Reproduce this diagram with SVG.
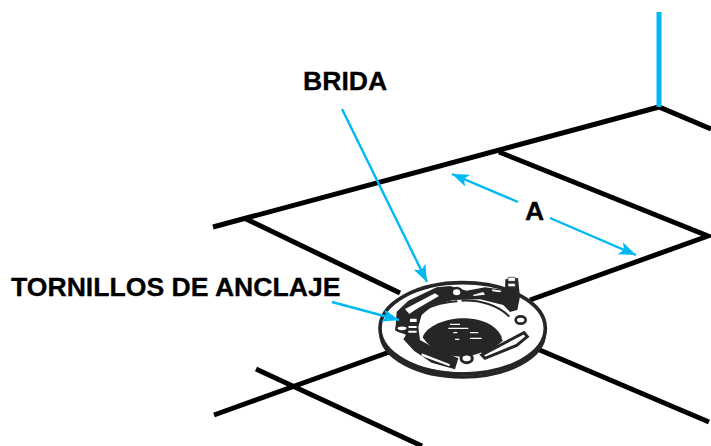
<svg xmlns="http://www.w3.org/2000/svg" width="711" height="446" viewBox="0 0 711 446">
<defs>
<marker id="ah" markerUnits="userSpaceOnUse" markerWidth="18" markerHeight="14" refX="17" refY="7" orient="auto"><path d="M0 0.500L17 7L0 13.500L4 7Z" fill="#00b9f2"/></marker>
</defs>
<style>
.floor{fill:none;stroke:#000;stroke-width:5}
.dim{fill:none;stroke:#00b9f2;stroke-width:2.4;marker-end:url(#ah)}
.lbl{font-family:"Liberation Sans",Arial,sans-serif;font-weight:700;font-size:26.6px;fill:#000;stroke:#000;stroke-width:.3}
.k{fill:#262626;stroke:none}
.o{fill:none;stroke:#262626}
.w{fill:#fff;stroke:#262626}
</style>
<g id="floor-lines" class="floor">
<path d="M213 227L659 107L711 129"/>
<path d="M246 219L400 293"/>
<path d="M499 152L708 236L530 300"/>
<path d="M214 415L395 350"/>
<path d="M256 369L422 446"/>
<path d="M535 348L709 422"/>
</g>
<path id="wall-line" d="M659 107V12" fill="none" stroke="#00b9f2" stroke-width="5"/>
<g id="flange" transform="translate(370 260) scale(.3333)">
<ellipse cx="278" cy="218" rx="246" ry="133" class="w" stroke-width="10"/>
<ellipse cx="278" cy="205" rx="248" ry="137" class="w" stroke-width="11"/>
<path class="o" stroke-width="5" d="M62 270C120 325 210 340 290 340"/>
<path class="k" d="M80 155L115 122L200 82L240 78L290 92L345 82L405 90L406 58L444 54L450 110L442 150L420 156L400 135L330 118L250 120L190 135L155 165L145 200L150 240L190 262L265 295L255 328L185 308L132 272L100 238L108 224L76 212Z"/>
<ellipse cx="285" cy="190" rx="135" ry="58" fill="#fff"/>
<path class="k" d="M158 232C170 197 230 175 280 175C340 175 385 200 396 235C360 270 320 290 275 290C225 290 180 267 158 232Z"/>
<path class="o" stroke-width="6" d="M150 162C175 138 215 127 262 124M275 122C330 120 385 135 418 170"/>
<path class="o" stroke-width="9" d="M396 238C375 258 355 270 335 280"/>
<path d="M105 147L195 100L207 108L135 150L118 162Z" fill="#fff"/>
<path d="M308 105L340 96L345 104L312 108ZM365 88L395 92L390 97L368 94ZM120 176H140V186H120ZM115 198H140V204H115ZM115 212H140V218H115ZM155 280L240 313L238 319L155 288Z" fill="#fff"/>
<path d="M235 205H295M240 193H270M300 218H325M300 235H335M250 218H262M255 238H268" stroke="#fff" stroke-width="4" fill="none"/>
<ellipse cx="260" cy="97" rx="15" ry="13" class="w" stroke-width="8"/>
<ellipse cx="452" cy="180" rx="15" ry="11" class="w" stroke-width="8"/>
<ellipse cx="290" cy="295" rx="17" ry="13" class="w" stroke-width="9"/>
<ellipse cx="96" cy="205" rx="17" ry="9" class="w" stroke-width="7"/>
<path class="w" stroke-width="9" d="M335 285L420 240L462 218L472 230L440 256L345 295Z"/>
<path d="M414 52H436V64H414ZM414 70H436V80H414Z" fill="#fff" stroke="#262626" stroke-width="2"/>
</g>
<g id="connectors">
<path class="dim" d="M342 109L427 282"/>
<path class="dim" d="M332 302L399 320"/>
<path class="dim" d="M518 202L452 174"/>
<path class="dim" d="M550 218L636 255"/>
</g>
<g id="label-brida"><text class="lbl" x="303" y="90">BRIDA</text></g>
<g id="label-tornillos"><text class="lbl" x="11" y="296">TORNILLOS DE ANCLAJE</text></g>
<g id="label-a"><text class="lbl" x="525" y="220">A</text></g>
</svg>
